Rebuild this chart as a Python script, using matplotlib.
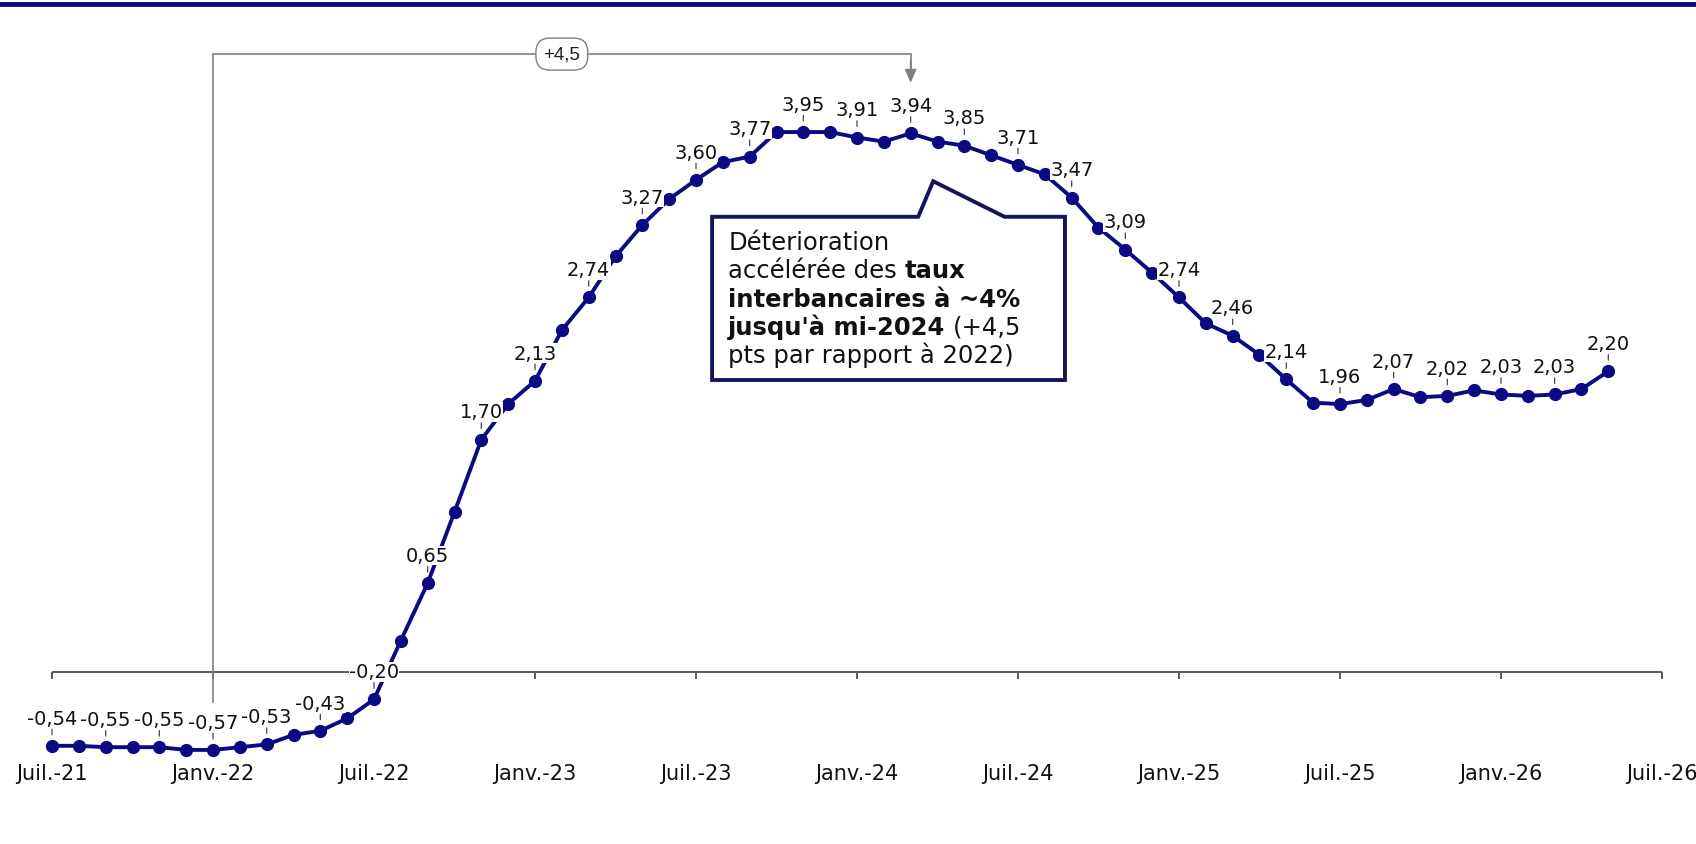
import numpy as np
import matplotlib.pyplot as plt
from matplotlib.patches import Polygon
from matplotlib.lines import Line2D

# monthly interbank rate, Jul-21 .. May-26 (%)
rates = [
    -0.54, -0.54, -0.55, -0.55, -0.55, -0.57,                              # 2021 H2
    -0.57, -0.55, -0.53, -0.46, -0.43, -0.34, -0.20, 0.23, 0.65, 1.17, 1.70, 1.96,   # 2022
    2.13, 2.50, 2.74, 3.04, 3.27, 3.46, 3.60, 3.73, 3.77, 3.95, 3.95, 3.95,          # 2023
    3.91, 3.88, 3.94, 3.88, 3.85, 3.78, 3.71, 3.64, 3.47, 3.25, 3.09, 2.92,          # 2024
    2.74, 2.55, 2.46, 2.32, 2.14, 1.97, 1.96, 1.99, 2.07, 2.01, 2.02, 2.06,          # 2025
    2.03, 2.02, 2.03, 2.07, 2.20,                                                    # 2026
]
tick_pos = [0, 6, 12, 18, 24, 30, 36, 42, 48, 54, 60]
tick_labels = ['Juil.-21', 'Janv.-22', 'Juil.-22', 'Janv.-23', 'Juil.-23', 'Janv.-24',
               'Juil.-24', 'Janv.-25', 'Juil.-25', 'Janv.-26', 'Juil.-26']
gap_from, gap_to = 6, 32      # Janv.-22 -> Mars-24
gap_text = '+4,5'

NAVY = '#0a0a82'
BOX = '#14145c'
GREY = '#7f7f7f'

x = np.arange(len(rates))
y = np.array(rates)

fig = plt.figure(figsize=(16.96, 8.45), dpi=100)
ax = fig.add_axes([0, 85 / 845, 1, 760 / 845])
px_m = 26.83   # px per month
px_u = 136.7   # px per unit
ax.set_xlim(-52 / px_m, 60 + 34 / px_m)
ax.set_ylim(-87 / px_u, 673 / px_u)
for s in ax.spines.values():
    s.set_visible(False)
ax.set_yticks([])
ax.set_xticks(tick_pos, tick_labels, fontsize=15, color='#111111')
ax.tick_params(axis='x', length=0, pad=3)

# baseline at zero with small ticks
ax.hlines(0, tick_pos[0], tick_pos[-1], color='#595959', lw=1.4, zorder=1)
ax.vlines(tick_pos, -0.05, 0, color='#595959', lw=1.4, zorder=1)

# series
ax.plot(x, y, color=NAVY, lw=2.8, marker='o', ms=8.5, zorder=3)

# data labels every other month
for i in range(0, len(x), 2):
    txt = f'{y[i]:.2f}'.replace('.', ',')
    ax.annotate('', xy=(x[i], y[i]), xytext=(0, 12), textcoords='offset points',
                arrowprops=dict(arrowstyle='-', shrinkA=0, shrinkB=8, lw=0.9, color='#444444'),
                zorder=2)
    ax.annotate(txt, xy=(x[i], y[i]), xytext=(0, 16), textcoords='offset points',
                ha='center', va='baseline', fontsize=14, color='#111111', zorder=5,
                bbox=dict(boxstyle='square,pad=0.02', fc='white', ec='none'))

# bracket +4,5 from Janv.-22 to Mars-24
top = 4.52
ax.plot([gap_from, gap_from, gap_to, gap_to], [-0.22, top, top, top - 0.1],
        color=GREY, lw=1.2, zorder=1, solid_joinstyle='miter')
ax.annotate('', xy=(gap_to, 4.31), xytext=(gap_to, top - 0.05),
            arrowprops=dict(arrowstyle='-|>,head_length=0.8,head_width=0.35',
                            color=GREY, lw=1.2, shrinkA=0, shrinkB=0))
ax.text((gap_from + gap_to) / 2, top, gap_text, ha='center', va='center',
        fontsize=13.5, family='Liberation Sans', color='#222222', zorder=6,
        bbox=dict(boxstyle='round,pad=0.4,rounding_size=0.75', fc='white', ec=GREY, lw=1))

# callout box with notch
bx0, bx1, by0, by1 = 24.6, 37.75, 2.136, 3.33
callout = Polygon([(bx0, by1), (32.28, by1), (32.84, 3.59), (35.5, by1), (bx1, by1),
                   (bx1, by0), (bx0, by0)], closed=True, fc='white', ec=BOX, lw=2.8,
                  joinstyle='miter', zorder=6)
ax.add_patch(callout)

fs = 17.5
tx = 25.2
sp = 5.5
kw = dict(fontsize=fs, color='#111111', zorder=7, va='baseline', ha='left')
ax.text(tx, 3.094, 'Déterioration', **kw)
t2 = ax.text(tx, 2.890, 'accélérée des', **kw)
ax.annotate('taux', xy=(1, 0), xycoords=t2, xytext=(sp, 0), textcoords='offset points',
            fontsize=fs, color='#111111', zorder=7, va='bottom', ha='left', fontweight='bold')
ax.text(tx, 2.680, 'interbancaires à ~4%', fontweight='bold', **kw)
t4 = ax.text(tx, 2.473, "jusqu'à mi-2024", fontweight='bold', **kw)
ax.annotate('(+4,5', xy=(1, 0), xycoords=t4, xytext=(sp, 0), textcoords='offset points',
            fontsize=fs, color='#111111', zorder=7, va='bottom', ha='left')
ax.text(tx, 2.268, 'pts par rapport à 2022)', **kw)

# top rule
fig.add_artist(Line2D([0, 1], [1 - 5 / 845] * 2, transform=fig.transFigure, color=NAVY, lw=3.5))

fig.savefig('out.png', dpi=100)
